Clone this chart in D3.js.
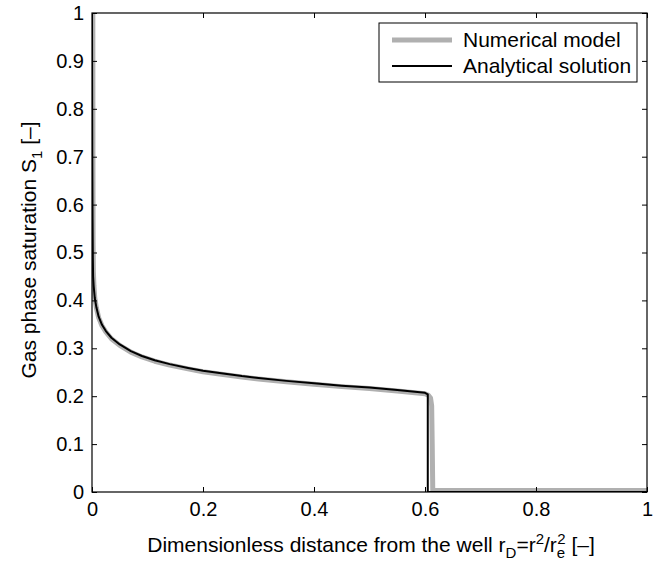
<!DOCTYPE html>
<html><head><meta charset="utf-8">
<script src="https://cdn.jsdelivr.net/npm/d3@7"></script>
<style>body{margin:0;background:#fff;} text{font-family:"Liberation Sans",Arial,sans-serif;}</style>
</head><body><svg id="c" width="661" height="562"></svg>
<script>
const xTicks = [0, 0.2, 0.4, 0.6, 0.8, 1];
const yTicks = [0, 0.1, 0.2, 0.3, 0.4, 0.5, 0.6, 0.7, 0.8, 0.9, 1];
const xTickLabels = ["0", "0.2", "0.4", "0.6", "0.8", "1"];
const yTickLabels = ["0", "0.1", "0.2", "0.3", "0.4", "0.5", "0.6", "0.7", "0.8", "0.9", "1"];

const analyticalX = [0, 0.0002, 0.0005, 0.001, 0.0015, 0.002, 0.003, 0.005, 0.008, 0.012, 0.018, 0.025, 0.035, 0.05, 0.07, 0.09, 0.113, 0.14, 0.173, 0.2, 0.233, 0.27, 0.3, 0.35, 0.4, 0.45, 0.5, 0.55, 0.6, 0.605, 0.605, 1];
const analyticalY = [1, 0.85, 0.7, 0.57, 0.49, 0.45, 0.43, 0.405, 0.385, 0.366, 0.349, 0.336, 0.322, 0.308, 0.294, 0.284, 0.275, 0.267, 0.259, 0.253, 0.248, 0.242, 0.238, 0.232, 0.227, 0.222, 0.218, 0.213, 0.207, 0.204, 0, 0];

const numericalX = [0.0015, 0.0017, 0.002, 0.0025, 0.0035, 0.005, 0.008, 0.012, 0.018, 0.025, 0.035, 0.05, 0.07, 0.09, 0.113, 0.14, 0.173, 0.2, 0.233, 0.27, 0.3, 0.35, 0.4, 0.45, 0.5, 0.55, 0.6, 0.606, 0.61, 0.612, 0.613, 0.614, 1];
const numericalY = [1, 0.7, 0.52, 0.46, 0.43, 0.405, 0.384, 0.364, 0.347, 0.334, 0.32, 0.306, 0.292, 0.282, 0.273, 0.265, 0.257, 0.251, 0.246, 0.24, 0.236, 0.23, 0.225, 0.22, 0.216, 0.211, 0.205, 0.202, 0.196, 0.18, 0.1, 0.003, 0.003];

const seriesNames = ["Numerical model", "Analytical solution"];

const svg = d3.select("#c");
const L = 92, R = 647, T = 13, B = 492;
const x = d3.scaleLinear().domain([0, 1]).range([L, R]);
const y = d3.scaleLinear().domain([0, 1]).range([B, T]);

const plot = svg.append("g");
svg.append("clipPath").attr("id", "clip").append("rect")
  .attr("x", L).attr("y", T - 2).attr("width", R - L).attr("height", B - T + 2);

const line = d3.line().x(d => x(d[0])).y(d => y(d[1]));
plot.append("path").datum(numericalX.map((v, i) => [v, numericalY[i]]))
  .attr("d", line).attr("fill", "none").attr("stroke", "#b0b0b0").attr("stroke-width", 5)
  .attr("stroke-linejoin", "round").attr("clip-path", "url(#clip)");
plot.append("path").datum(analyticalX.map((v, i) => [v, analyticalY[i]]))
  .attr("d", line).attr("fill", "none").attr("stroke", "#000").attr("stroke-width", 2)
  .attr("stroke-linejoin", "round").attr("clip-path", "url(#clip)");

// axes
const fs = 20, fl = 21;
const xb = svg.append("g").attr("transform", `translate(0,${B})`)
  .call(d3.axisBottom(x).tickValues(xTicks).tickFormat((d, i) => xTickLabels[i]).tickSizeInner(-5).tickSizeOuter(0).tickPadding(10));
const xt = svg.append("g").attr("transform", `translate(0,${T})`)
  .call(d3.axisTop(x).tickValues(xTicks).tickFormat("").tickSizeInner(-5).tickSizeOuter(0));
const yl = svg.append("g").attr("transform", `translate(${L},0)`)
  .call(d3.axisLeft(y).tickValues(yTicks).tickFormat((d, i) => yTickLabels[i]).tickSizeInner(-5).tickSizeOuter(0).tickPadding(8));
const yr = svg.append("g").attr("transform", `translate(${R},0)`)
  .call(d3.axisRight(y).tickValues(yTicks).tickFormat("").tickSizeInner(-5).tickSizeOuter(0));
[xb, xt, yl, yr].forEach(g => {
  g.select(".domain").remove();
  g.selectAll("line").attr("stroke", "#000");
  g.selectAll("text").attr("font-size", fs).attr("fill", "#000").style("font-family", '"Liberation Sans",Arial,sans-serif');
});
svg.append("rect").attr("x", L).attr("y", T).attr("width", R - L).attr("height", B - T)
  .attr("fill", "none").attr("stroke", "#000").attr("stroke-width", 1.2);

// x label
const xl = svg.append("text").attr("x", 371).attr("y", 552).attr("text-anchor", "middle").attr("font-size", fl);
xl.append("tspan").text("Dimensionless distance from the well r");
xl.append("tspan").attr("dy", 6).attr("font-size", 15).text("D");
xl.append("tspan").attr("dy", -6).text("=r");
xl.append("tspan").attr("dy", -8).attr("font-size", 15).text("2");
xl.append("tspan").attr("dy", 8).text("/r");
xl.append("tspan").attr("dy", 6).attr("font-size", 15).text("e");
xl.append("tspan").attr("dx", -8).attr("dy", -14).attr("font-size", 15).text("2");
xl.append("tspan").attr("dy", 8).text(" [\u2013]");

// y label
const ylab = svg.append("text").attr("transform", "translate(36,250) rotate(-90)").attr("text-anchor", "middle").attr("font-size", fl);
ylab.append("tspan").text("Gas phase saturation S");
ylab.append("tspan").attr("dy", 6).attr("font-size", 15).text("1");
ylab.append("tspan").attr("dy", -6).text("  [\u2013]");

// legend
const lg = svg.append("g");
lg.append("rect").attr("x", 379).attr("y", 23).attr("width", 258).attr("height", 59)
  .attr("fill", "#fff").attr("stroke", "#000").attr("stroke-width", 1);
const legColors = ["#b0b0b0", "#000"];
const legWidths = [5, 2];
seriesNames.forEach((n, i) => {
  const yy = 40 + i * 26;
  lg.append("line").attr("x1", 392).attr("x2", 452).attr("y1", yy).attr("y2", yy)
    .attr("stroke", legColors[i]).attr("stroke-width", legWidths[i]);
  lg.append("text").attr("x", 463).attr("y", yy + 7).attr("font-size", fl).text(n);
});
</script></body></html>
